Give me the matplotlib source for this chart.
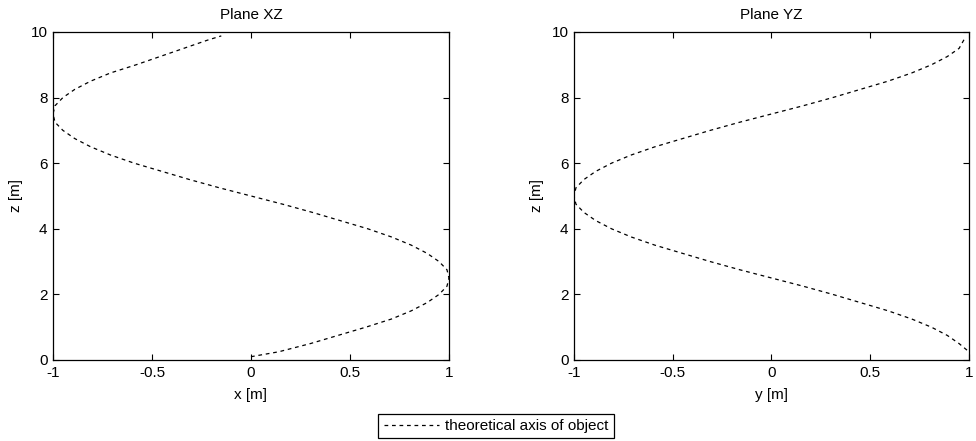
import matplotlib
matplotlib.use("Agg")
import matplotlib.pyplot as plt

plt.rcParams['font.family'] = ['Liberation Sans', 'DejaVu Sans']
plt.rcParams['font.size'] = 11

# datos
z_xz = [0.1, 0.25, 0.5, 0.75, 1.0, 1.25, 1.5, 1.75, 2.0, 2.25, 2.5, 2.75, 3.0,
        3.25, 3.5, 3.75, 4.0, 4.25, 4.5, 4.75, 5.0, 5.25, 5.5, 5.75, 6.0, 6.25,
        6.5, 6.75, 7.0, 7.25, 7.5, 7.75, 8.0, 8.25, 8.5, 8.75, 9.0, 9.25, 9.5,
        9.75, 9.88]
x_xz = [0.0, 0.14, 0.30, 0.44, 0.58, 0.71, 0.81, 0.89, 0.95, 0.99, 1.0, 0.99,
        0.95, 0.89, 0.81, 0.71, 0.59, 0.45, 0.31, 0.16, 0.0, -0.16, -0.31,
        -0.45, -0.59, -0.71, -0.81, -0.89, -0.95, -0.99, -1.0, -0.99, -0.95,
        -0.89, -0.81, -0.71, -0.58, -0.46, -0.34, -0.22, -0.15]

z_yz = [0.3, 0.5, 0.75, 1.0, 1.25, 1.5, 1.75, 2.0, 2.25, 2.5, 2.75, 3.0, 3.25,
        3.5, 3.75, 4.0, 4.25, 4.5, 4.75, 5.0, 5.25, 5.5, 5.75, 6.0, 6.25, 6.5,
        6.75, 7.0, 7.25, 7.5, 7.75, 8.0, 8.25, 8.5, 8.75, 9.0, 9.25, 9.5, 9.82]
y_yz = [0.99, 0.95, 0.89, 0.81, 0.71, 0.59, 0.45, 0.31, 0.16, 0.0, -0.16,
        -0.31, -0.45, -0.59, -0.71, -0.81, -0.89, -0.95, -0.99, -1.0, -0.99,
        -0.95, -0.89, -0.81, -0.71, -0.59, -0.45, -0.31, -0.16, 0.0, 0.16,
        0.31, 0.45, 0.59, 0.71, 0.81, 0.89, 0.95, 0.98]

paneles = [
    ("Plane XZ", "x [m]", x_xz, z_xz, [0.0543, 0.1837, 0.4057, 0.7438]),
    ("Plane YZ", "y [m]", y_yz, z_yz, [0.5881, 0.1837, 0.4047, 0.7438]),
]

fig = plt.figure(figsize=(9.76, 4.41), dpi=100)

linea = None
for titulo, etiqueta, h, z, pos in paneles:
    ax = fig.add_axes(pos)
    linea, = ax.plot(h, z, color='black', lw=0.9, linestyle=(0, (3, 3)))
    ax.set_xlim(-1, 1)
    ax.set_ylim(0, 10)
    ax.set_xticks([-1, -0.5, 0, 0.5, 1])
    ax.set_xticklabels(['-1', '-0.5', '0', '0.5', '1'])
    ax.set_yticks([0, 2, 4, 6, 8, 10])
    ax.tick_params(direction='in', top=True, right=True, length=4, pad=4)
    ax.set_title(titulo, fontsize=11, pad=9)
    ax.set_xlabel(etiqueta, labelpad=6)
    ax.set_ylabel("z [m]", labelpad=5)
    for s in ax.spines.values():
        s.set_linewidth(0.9)

leg = fig.legend([linea], ["theoretical axis of object"], loc='center',
                 bbox_to_anchor=(496 / 976, 1 - 426 / 441), fancybox=False,
                 framealpha=1, edgecolor='black', handlelength=3.6,
                 handletextpad=0.4, borderpad=0.35)
leg.get_frame().set_linewidth(0.9)

fig.savefig("out.png", dpi=100)
